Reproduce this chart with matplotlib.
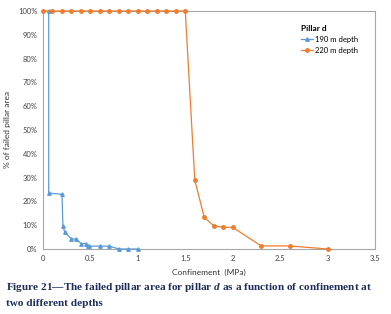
import matplotlib
matplotlib.use("Agg")
import matplotlib.pyplot as plt
from matplotlib.ticker import PercentFormatter

# 190 m depth
x190 = [0.06, 0.06, 0.2, 0.21, 0.23, 0.3, 0.35, 0.4, 0.45, 0.47, 0.49, 0.6, 0.7, 0.8, 0.9, 1.0]
y190 = [100, 23.5, 23, 9.5, 7, 4.2, 4.2, 2.3, 2.3, 1.2, 1.2, 1.2, 1.2, 0, 0, 0]

# 220 m depth
x220 = [0, 0.1, 0.2, 0.3, 0.4, 0.5, 0.6, 0.7, 0.8, 0.9, 1.0, 1.1, 1.2, 1.3, 1.4, 1.5,
        1.6, 1.7, 1.8, 1.9, 2.0, 2.3, 2.6, 3.0]
y220 = [100] * 16 + [29, 13.3, 9.8, 9.1, 9.1, 1.3, 1.3, 0]

plt.rcParams["font.family"] = ["Lato", "DejaVu Sans"]
plt.rcParams["mathtext.fontset"] = "custom"
plt.rcParams["mathtext.it"] = "Liberation Serif:italic:bold"

fig = plt.figure(figsize=(3.91, 3.14), dpi=100)
ax = fig.add_axes([0.110, 0.207, 0.849, 0.758])

ax.plot(x190, y190, color="#5b9bd5", marker="^", markersize=2.5, linewidth=0.9,
        label="190 m depth", clip_on=False, zorder=3)
ax.plot(x220, y220, color="#ed7d31", marker="o", markersize=2.5, linewidth=0.9,
        label="220 m depth", clip_on=False, zorder=3)

ax.set_xlim(0, 3.5)
ax.set_ylim(0, 100)
ax.set_xticks([0, 0.5, 1, 1.5, 2, 2.5, 3, 3.5])
ax.set_xticklabels(["0", "0.5", "1", "1.5", "2", "2.5", "3", "3.5"])
ax.set_yticks(range(0, 101, 10))
ax.yaxis.set_major_formatter(PercentFormatter(decimals=0))
ax.tick_params(labelsize=5.5, length=0, colors="#444444", pad=4)
for s in ax.spines.values():
    s.set_color("#a6a6a6")
    s.set_linewidth(0.8)

ax.set_xlabel("Confinement  (MPa)", fontsize=6, color="#333333", labelpad=5)
ax.set_ylabel("% of failed pillar area", fontsize=6, color="#333333", labelpad=5)

leg = ax.legend(title="Pillar d", loc="upper right", bbox_to_anchor=(0.97, 0.97), frameon=False,
                fontsize=5.5, handlelength=1.6, handletextpad=0.2, labelspacing=0.5)
leg.get_title().set_fontweight("bold")
leg.get_title().set_fontsize(6)
leg._legend_box.align = "left"

fig.text(0.015, 0.075, "Figure 21\u2014The failed pillar area for pillar $d$ as a function of confinement at",
         fontsize=8.1, fontweight="bold", family="Liberation Serif", color="#1f2d5c")
fig.text(0.015, 0.025, "two different depths",
         fontsize=8.1, fontweight="bold", family="Liberation Serif", color="#1f2d5c")

fig.savefig("out.png", dpi=100)
